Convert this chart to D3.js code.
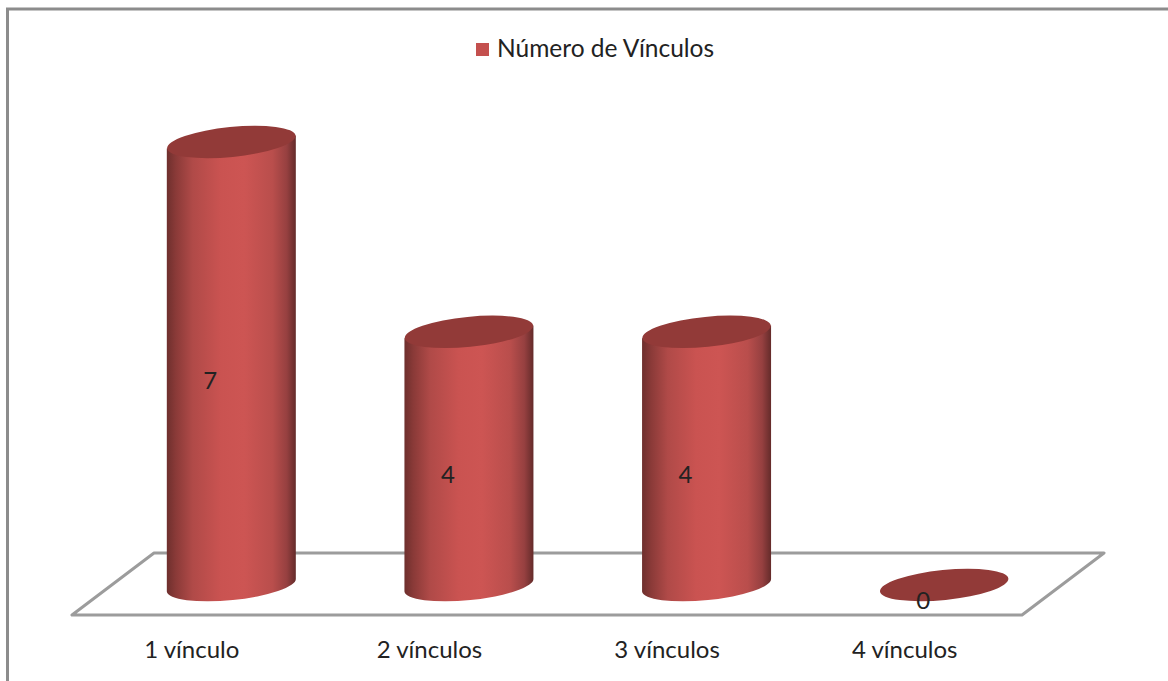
<!DOCTYPE html>
<html>
<head>
<meta charset="utf-8">
<script src="https://cdn.jsdelivr.net/npm/d3@7"></script>
<style>
    html, body { margin: 0; padding: 0; background: #fff; overflow: hidden; }
    text { font-family: Lato, "Open Sans", sans-serif; fill: #222; }
</style>
</head>
<body>
<div id="chart"></div>
<script>
// Chart data
const categories = ['1 vínculo', '2 vínculos', '3 vínculos', '4 vínculos'];
const values = [7, 4, 4, 0];
const seriesName = 'Número de Vínculos';

const width = 1168;
const height = 681;

const svg = d3.select('#chart').append('svg')
    .attr('width', width)
    .attr('height', height);

// Shading across the cylinder body
const defs = svg.append('defs');
const shade = defs.append('linearGradient').attr('id', 'body-shade');
[[0, '#6e2f2d'], [0.07, '#8a3a38'], [0.2, '#b04a48'], [0.42, '#ca5351'], [0.6, '#cd5553'], [0.82, '#b94e4c'], [0.93, '#964040'], [1, '#642b2a']]
    .forEach(s => shade.append('stop').attr('offset', s[0]).attr('stop-color', s[1]));

// Outer border
svg.append('rect')
    .attr('x', 7.5).attr('y', 9)
    .attr('width', 1180).attr('height', 700)
    .attr('fill', 'none')
    .attr('stroke', '#8c8c8c')
    .attr('stroke-width', 3);

// Scales
const x = d3.scaleBand().domain(categories).range([112.5, 1063]).padding(0);
const y = d3.scaleLinear().domain([0, 7]).range([585, 142]);

const rx = 64.5;
const ry = 15;
const tilt = -5.7;

// Floor
const floor = [[72, 615], [1022, 615], [1104, 553], [154, 553]];
svg.append('path')
    .attr('d', d3.line()(floor) + 'Z')
    .attr('fill', '#fff')
    .attr('stroke', '#9c9c9c')
    .attr('stroke-width', 3)
    .attr('stroke-linejoin', 'round');

// Cylinders
const bars = svg.selectAll('.bar')
    .data(categories.map((c, i) => ({ cat: c, value: values[i] })))
    .enter().append('g')
    .attr('class', 'bar')
    .attr('transform', d => `translate(${x(d.cat) + x.bandwidth() / 2},0)`);

// Edge of the tilted ellipse at the left/right side
const edgeDy = rx * Math.tan(-tilt * Math.PI / 180);

bars.filter(d => d.value > 0).append('path')
    .attr('d', d => {
        const t = y(d.value);
        const b = y(0);
        return `M${-rx} ${t + edgeDy} L${-rx} ${b + edgeDy}
                A${rx} ${ry} ${tilt} 0 0 ${rx} ${b - edgeDy}
                L${rx} ${t - edgeDy} Z`;
    })
    .attr('fill', 'url(#body-shade)');

bars.append('ellipse')
    .attr('rx', rx)
    .attr('ry', ry)
    .attr('transform', d => `translate(0,${y(d.value)}) rotate(${tilt})`)
    .attr('fill', '#923a38');

// Value labels
bars.append('text')
    .attr('x', -21)
    .attr('y', d => d.value > 0 ? (y(d.value) + y(0)) / 2 + 25 : y(0) + 24)
    .attr('text-anchor', 'middle')
    .attr('font-size', 24)
    .text(d => d.value);

// Category labels
svg.selectAll('.cat')
    .data(categories)
    .enter().append('text')
    .attr('class', 'cat')
    .attr('x', d => x(d) + x.bandwidth() / 2 - 39.5)
    .attr('y', 658)
    .attr('text-anchor', 'middle')
    .attr('font-size', 24)
    .text(d => d);

// Legend
svg.append('rect')
    .attr('x', 476).attr('y', 43)
    .attr('width', 13).attr('height', 13)
    .attr('fill', '#c4504e');

svg.append('text')
    .attr('x', 497)
    .attr('y', 57)
    .attr('font-size', 24.5)
    .text(seriesName);
</script>
</body>
</html>
